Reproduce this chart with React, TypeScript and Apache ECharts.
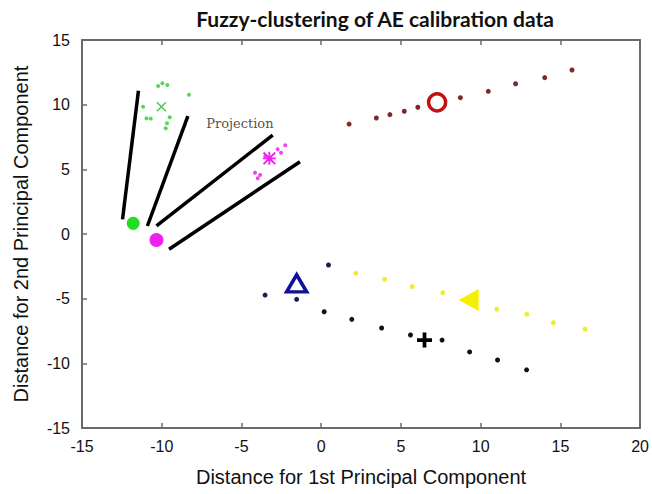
import React, { useEffect, useRef } from "react";
import * as echarts from "echarts";

const titleText = "Fuzzy-clustering of AE calibration data";
const xName = "Distance for 1st Principal Component";
const yName = "Distance for 2nd Principal Component";

const brownPts = [[1.75, 8.5], [3.46, 8.97], [4.31, 9.23], [5.21, 9.49], [6.06, 9.8], [8.73, 10.54], [10.48, 11.03], [12.19, 11.62], [14.02, 12.09], [15.73, 12.68]];
const brownCenter = [[7.27, 10.18]];

const greenPts = [[-10.23, 11.44], [-9.96, 11.65], [-9.65, 11.52], [-8.29, 10.77], [-11.17, 9.84], [-10.96, 8.94], [-10.69, 8.92], [-9.5, 9.02], [-9.67, 8.56], [-9.75, 8.17]];
const greenCenter = [[-10.02, 9.84]];
const greenProj = [[-11.79, 0.83]];

const magentaPts = [[-3.5, 6.03], [-2.73, 6.55], [-2.25, 6.86], [-2.52, 6.29], [-4.15, 4.74], [-3.83, 4.56], [-3.98, 4.31]];
const magentaCenter = [[-3.25, 5.85]];
const magentaProj = [[-10.33, -0.46]];

const navyPts = [[-3.52, -4.72], [-1.54, -5.05], [0.46, -2.4]];
const navyCenter = [[-1.54, -3.81]];

const blackPts = [[0.19, -6.01], [1.92, -6.6], [3.79, -7.27], [5.6, -7.81], [7.58, -8.2], [9.31, -9.12], [11.06, -9.74], [12.88, -10.5]];
const blackCenter = [[6.48, -8.2]];

const yellowPts = [[2.17, -3.04], [3.98, -3.5], [5.71, -4.07], [7.63, -4.54], [11.02, -5.82], [12.9, -6.21], [14.56, -6.86], [16.54, -7.35]];
const yellowCenter = [[9.25, -5.1]];

const projLines = [
  [[-11.46, 11.08], [-12.46, 1.13]],
  [[-8.36, 9.12], [-10.9, 0.62]],
  [[-3.04, 7.65], [-10.33, 0.62]],
  [[-1.33, 5.59], [-9.54, -1.18]],
];
const projLabelPos = [[-5.1, 8.55]];
const projLabelText = "Projection";

const PLUS = "path://M6,0 H10 V6 H16 V10 H10 V16 H6 V10 H0 V6 H6 Z";
const XMARK = "path://M0,1 L1,0 L5,4 L9,0 L10,1 L6,5 L10,9 L9,10 L5,6 L1,10 L0,9 L4,5 Z";
const STAR = "path://M4.3,0 H5.7 V4.3 H10 V5.7 H5.7 V10 H4.3 V5.7 H0 V4.3 H4.3 Z M0,1 L1,0 L5,4 L9,0 L10,1 L6,5 L10,9 L9,10 L5,6 L1,10 L0,9 L4,5 Z";

const axisFont = "Liberation Sans, Arial, sans-serif";
const axisColor = "#6a6a6a";

export default function App() {
  const ref = useRef<HTMLDivElement>(null);
  useEffect(() => {
    if (!ref.current) return;
    const chart = echarts.init(ref.current, null, { renderer: "svg" });
    const dots = (data: number[][], color: string, size: number) => ({
      type: "scatter",
      data,
      symbol: "circle",
      symbolSize: size,
      itemStyle: { color, opacity: 1 },
      z: 3,
    });
    const lineSeries = projLines.map((seg) => ({
      type: "line",
      data: seg,
      symbol: "none",
      lineStyle: { color: "#000", width: 3.5 },
      z: 2,
    }));
    const axisLine = { show: true, onZero: false, lineStyle: { color: axisColor, width: 2 } };
    const tick = { show: true, inside: true, length: 5, lineStyle: { color: axisColor, width: 1.5 } };
    chart.setOption({
      animation: false,
      backgroundColor: "#fff",
      grid: { left: 82, top: 40, right: 10, bottom: 66 },
      graphic: [
        {
          type: "text",
          x: 375,
          y: 18,
          style: {
            text: titleText,
            font: "bold 21px Lato, 'Open Sans', sans-serif",
            fill: "#111",
            textAlign: "center",
            textVerticalAlign: "middle",
          },
        },
      ],
      xAxis: [
        {
          type: "value",
          min: -15,
          max: 20,
          interval: 5,
          position: "bottom",
          name: xName,
          nameLocation: "middle",
          nameGap: 39,
          nameTextStyle: { fontFamily: axisFont, fontSize: 20, color: "#111" },
          axisLine,
          axisTick: tick,
          axisLabel: { margin: 10, fontFamily: axisFont, fontSize: 16, color: "#111" },
          splitLine: { show: false },
        },
        {
          type: "value",
          min: -15,
          max: 20,
          interval: 5,
          position: "top",
          axisLine,
          axisTick: tick,
          axisLabel: { show: false },
          splitLine: { show: false },
        },
      ],
      yAxis: [
        {
          type: "value",
          min: -15,
          max: 15,
          interval: 5,
          position: "left",
          name: yName,
          nameLocation: "middle",
          nameGap: 51,
          nameTextStyle: { fontFamily: axisFont, fontSize: 20, color: "#111" },
          axisLine,
          axisTick: tick,
          axisLabel: { margin: 12, fontFamily: axisFont, fontSize: 16, color: "#111" },
          splitLine: { show: false },
        },
        {
          type: "value",
          min: -15,
          max: 15,
          interval: 5,
          position: "right",
          axisLine,
          axisTick: { show: false },
          axisLabel: { show: false },
          splitLine: { show: false },
        },
      ],
      series: [
        ...lineSeries,
        {
          type: "scatter",
          data: projLabelPos,
          symbolSize: 0,
          label: {
            show: true,
            position: "inside",
            formatter: projLabelText,
            fontFamily: "'DejaVu Serif', 'Liberation Serif', serif",
            fontSize: 13,
            color: "#222",
          },
          z: 4,
        },
        dots(brownPts, "#7a2a2a", 5),
        {
          type: "scatter",
          data: brownCenter,
          symbol: "circle",
          symbolSize: 17,
          itemStyle: { color: "rgba(255,255,255,0)", borderColor: "#c41010", borderWidth: 3.5, opacity: 1 },
          z: 5,
        },
        dots(greenPts, "#55d855", 4),
        {
          type: "scatter",
          data: greenCenter,
          symbol: XMARK,
          symbolSize: 10,
          itemStyle: { color: "#44cc44", opacity: 1 },
          z: 5,
        },
        dots(greenProj, "#22dd22", 13),
        dots(magentaPts, "#ee44ee", 4),
        {
          type: "scatter",
          data: magentaCenter,
          symbol: STAR,
          symbolSize: 13,
          itemStyle: { color: "#ee22ee", opacity: 1 },
          z: 5,
        },
        dots(magentaProj, "#ee22ee", 14),
        dots(navyPts, "#1c1c5a", 5),
        {
          type: "scatter",
          data: navyCenter,
          symbol: "triangle",
          symbolSize: [20, 17],
          itemStyle: { color: "rgba(255,255,255,0)", borderColor: "#10109a", borderWidth: 3.5, opacity: 1 },
          z: 5,
        },
        dots(blackPts, "#111111", 5),
        {
          type: "scatter",
          data: blackCenter,
          symbol: PLUS,
          symbolSize: 15,
          itemStyle: { color: "#000", opacity: 1 },
          z: 5,
        },
        dots(yellowPts, "#eeee30", 5),
        {
          type: "scatter",
          data: yellowCenter,
          symbol: "triangle",
          symbolRotate: 90,
          symbolSize: [22, 20],
          itemStyle: { color: "#f5f000", opacity: 1 },
          z: 5,
        },
      ],
    });
    return () => chart.dispose();
  }, []);
  return (
    <div
      ref={ref}
      style={{ position: "fixed", left: 0, top: 0, width: 652, height: 494 }}
    />
  );
}
